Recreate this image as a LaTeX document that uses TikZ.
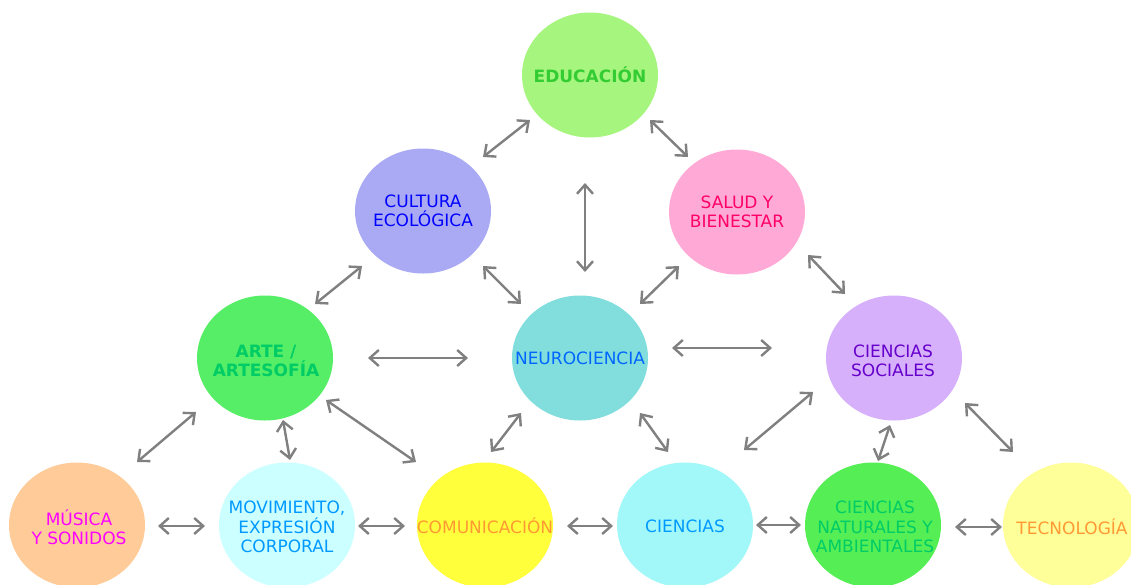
\documentclass[tikz,border=0pt]{standalone}
\usepackage{fontspec}
\setmainfont{DejaVu Sans}
\usetikzlibrary{shapes.geometric,arrows.meta,calc}
\definecolor{arrgray}{HTML}{808080}
\definecolor{fedu}{HTML}{A6F57E}
\definecolor{fcul}{HTML}{AAAAF4}
\definecolor{fsal}{HTML}{FFAAD6}
\definecolor{fart}{HTML}{55EE66}
\definecolor{fneu}{HTML}{82DEDC}
\definecolor{fsoc}{HTML}{D6B0FA}
\definecolor{fmus}{HTML}{FFCC99}
\definecolor{fmov}{HTML}{CCFFFF}
\definecolor{fcom}{HTML}{FFFF3C}
\definecolor{fcie}{HTML}{A2F8F8}
\definecolor{fnat}{HTML}{55EE55}
\definecolor{ftec}{HTML}{FFFF99}
\definecolor{tedu}{HTML}{33CC33}
\definecolor{tcul}{HTML}{0000FF}
\definecolor{tsal}{HTML}{FF0066}
\definecolor{tart}{HTML}{00CC66}
\definecolor{tneu}{HTML}{0066FF}
\definecolor{tsoc}{HTML}{6600CC}
\definecolor{tmus}{HTML}{FF00FF}
\definecolor{tmov}{HTML}{0099FF}
\definecolor{tcom}{HTML}{FF9933}
\definecolor{tnat}{HTML}{00CC66}
\tikzset{
  bub/.style={ellipse, draw=none, minimum width=136pt, minimum height=125pt, inner sep=0pt},
  txt/.style={align=center, inner sep=0pt, font=\fontsize{17}{19.5}\selectfont},
  btxt/.style={txt, font=\fontsize{17}{19.5}\selectfont\bfseries},
  arr/.style={draw=arrgray, line width=2.4pt,
    {Straight Barb[length=9pt,width=16pt]}-{Straight Barb[length=9pt,width=16pt]}}
}
\begin{document}
\begin{tikzpicture}[x=1pt,y=-1pt]
\useasboundingbox (0,0) rectangle (1131,584);
\fill[white] (0,0) rectangle (1131,584);
% bubbles
\node[bub, fill=fedu] (edu) at (590,75) {};
\node[bub, fill=fcul] (cul) at (423,211) {};
\node[bub, fill=fsal] (sal) at (737,212) {};
\node[bub, fill=fart] (art) at (265,358) {};
\node[bub, fill=fneu] (neu) at (580,358) {};
\node[bub, fill=fsoc] (soc) at (894,358) {};
\node[bub, fill=fmus] (mus) at (77,525) {};
\node[bub, fill=fmov] (mov) at (287,525) {};
\node[bub, fill=fcom] (com) at (485,525) {};
\node[bub, fill=fcie] (cie) at (685,525) {};
\node[bub, fill=fnat] (nat) at (873,525) {};
\node[bub, fill=ftec] (tec) at (1071,525) {};
% labels
\node[btxt, text=tedu] (ledu) at (edu) {EDUCACIÓN};
\node[txt, text=tcul] (lcul) at ($(cul)+(0,0)$) {CULTURA\\ECOLÓGICA};
\node[txt, text=tsal] (lsal) at ($(sal)+(0,0)$) {SALUD Y\\BIENESTAR};
\node[btxt, text=tart] (lart) at ($(art)+(1,3)$) {ARTE /\\ARTESOFÍA};
\node[txt, text=tneu] (lneu) at (neu) {NEUROCIENCIA};
\node[txt, text=tsoc] (lsoc) at ($(soc)+(-1,3)$) {CIENCIAS\\SOCIALES};
\node[txt, text=tmus] (lmus) at ($(mus)+(2,2)$) {MÚSICA\\Y SONIDOS};
\node[txt, text=tmov] (lmov) at ($(mov)+(0,2)$) {MOVIMIENTO,\\EXPRESIÓN\\CORPORAL};
\node[txt, text=tcom] (lcom) at ($(com)+(0,1)$) {COMUNICACIÓN};
\node[txt, text=tmov] (lcie) at ($(cie)+(0,1)$) {CIENCIAS};
\node[txt, text=tnat] (lnat) at ($(nat)+(2,2)$) {CIENCIAS\\NATURALES Y\\AMBIENTALES};
\node[txt, text=tcom] (ltec) at ($(tec)+(1,2)$) {TECNOLOGÍA};
% connectors
\draw[arr] ($(edu)+(-60,45)$) -- ($(cul)+(60,-54)$);
\draw[arr] ($(edu)+(60,45)$) -- ($(sal)+(-49,-55)$);
\draw[arr] ($(edu)+(-5,108)$) -- ($(neu)+(5,-86)$);
\draw[arr] ($(cul)+(-61,55)$) -- ($(art)+(50,-54)$);
\draw[arr] ($(cul)+(60,55)$) -- ($(neu)+(-59,-54)$);
\draw[arr] ($(sal)+(-58,54)$) -- ($(neu)+(60,-54)$);
\draw[arr] ($(sal)+(71,43)$) -- ($(soc)+(-49,-64)$);
\draw[arr] ($(art)+(103,0)$) -- ($(neu)+(-112,0)$);
\draw[arr] ($(neu)+(92,-10)$) -- ($(soc)+(-122,-10)$);
\draw[arr] ($(art)+(-69,54)$) -- ($(mus)+(60,-63)$);
\draw[arr] ($(art)+(18,62)$) -- ($(mov)+(3,-65)$);
\draw[arr] ($(art)+(61,42)$) -- ($(com)+(-69,-63)$);
\draw[arr] ($(neu)+(-59,55)$) -- ($(com)+(6,-73)$);
\draw[arr] ($(neu)+(60,55)$) -- ($(cie)+(-17,-73)$);
\draw[arr] ($(cie)+(59,-75)$) -- ($(soc)+(-81,34)$);
\draw[arr] ($(soc)+(-4,67)$) -- ($(nat)+(5,-64)$);
\draw[arr] ($(soc)+(71,45)$) -- ($(tec)+(-58,-73)$);
\draw[arr] ($(mus)+(81,1)$) -- ($(mov)+(-82,1)$);
\draw[arr] ($(mov)+(71,1)$) -- ($(com)+(-80,1)$);
\draw[arr] ($(com)+(82,1)$) -- ($(cie)+(-72,1)$);
\draw[arr] ($(cie)+(71,0)$) -- ($(nat)+(-72,0)$);
\draw[arr] ($(nat)+(82,2)$) -- ($(tec)+(-69,2)$);
\end{tikzpicture}
\end{document}
